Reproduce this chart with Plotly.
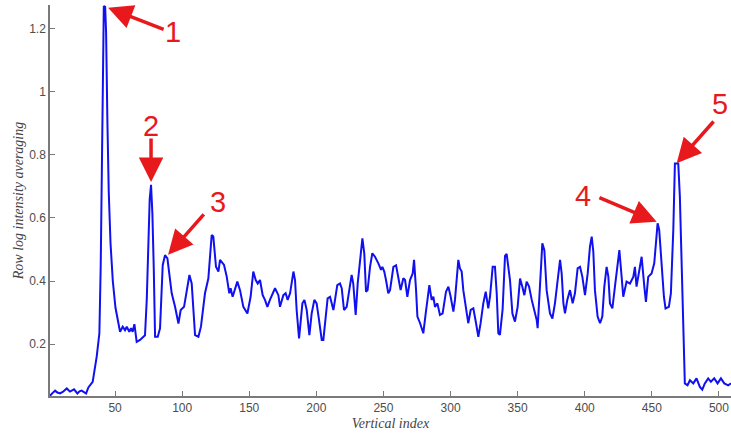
import plotly.graph_objects as go

# Row index (x) and row log-intensity average (y)
x_index = [1.5, 2.0, 3.5, 5.3, 7.0, 9.0, 11.0, 14.0, 16.4, 19.4, 21.9, 23.5, 25.1, 28.4, 30.1,
           33.3, 36.3, 38.3, 39.3, 40.0, 40.8, 41.6, 42.6, 43.3, 44.3, 45.3, 46.6, 48.3, 50.3,
           52.3, 53.7, 55.7, 57.4, 58.7, 60.6, 61.9, 63.1, 64.4, 66.1, 68.6, 71.1, 72.3, 73.6,
           74.8, 75.8, 76.8, 77.8, 78.8, 79.8, 81.8, 83.5, 85.5, 87.2, 89.0, 89.7, 92.2, 94.7,
           97.2, 98.9, 101.4, 105.4, 107.1, 109.6, 112.1, 114.0, 117.0, 119.5, 122.0, 123.2,
           125.2, 127.0, 128.2, 131.2, 133.2, 135.1, 136.1, 137.6, 141.1, 143.1, 145.6, 148.6,
           151.0, 153.0, 154.8, 156.3, 158.0, 160.0, 161.7, 163.5, 165.4, 169.2, 171.7, 172.9,
           175.4, 177.1, 178.6, 180.4, 182.9, 184.1, 185.3, 187.1, 187.8, 189.6, 191.1, 192.8,
           194.8, 196.5, 198.5, 200.2, 202.0, 204.0, 205.2, 206.9, 208.4, 210.2, 212.7, 213.9,
           215.6, 217.6, 218.9, 220.6, 222.6, 225.1, 226.3, 227.5, 229.3, 230.8, 232.5, 234.3,
           235.7, 237.0, 238.2, 240.0, 241.7, 243.7, 246.2, 248.2, 249.2, 250.6, 251.9, 253.6,
           254.9, 257.4, 259.4, 261.1, 262.8, 264.8, 266.1, 267.8, 269.8, 271.8, 272.8, 274.3,
           275.3, 277.3, 279.7, 281.5, 284.2, 285.9, 287.2, 288.4, 290.2, 292.1, 294.1, 296.6,
           298.4, 300.1, 302.1, 303.3, 304.6, 305.8, 307.0, 308.3, 309.5, 311.5, 313.2, 315.0,
           317.0, 319.0, 320.7, 322.4, 324.4, 326.2, 328.1, 329.4, 331.4, 333.1, 334.4, 335.6,
           336.8, 338.8, 340.6, 341.8, 344.3, 346.1, 348.0, 350.0, 351.8, 353.5, 355.0, 356.7,
           358.5, 360.5, 362.4, 364.2, 364.9, 366.7, 368.4, 369.9, 371.6, 374.1, 375.9, 377.8,
           379.8, 381.6, 382.8, 384.1, 385.3, 387.0, 389.0, 391.0, 392.7, 394.7, 396.5, 398.2,
           400.2, 402.2, 403.9, 405.2, 406.4, 407.6, 409.6, 411.4, 413.1, 414.6, 416.3, 417.6,
           418.8, 420.6, 422.5, 424.5, 425.8, 427.5, 428.7, 431.2, 433.7, 436.2, 437.4, 438.6,
           440.4, 442.4, 444.4, 445.6, 447.3, 449.8, 451.8, 454.3, 455.5, 457.3, 459.0, 460.2,
           462.7, 464.2, 466.0, 467.2, 469.7, 470.9, 472.2, 473.4, 474.6, 476.6, 478.4, 480.9,
           483.3, 485.8, 487.6, 489.5, 492.0, 494.0, 496.5, 499.0, 501.5, 504.0, 506.9, 509.0]
y_avg = [0.040, 0.038, 0.045, 0.052, 0.046, 0.043, 0.048, 0.059, 0.049, 0.056, 0.043, 0.050, 0.052,
         0.043, 0.062, 0.080, 0.160, 0.234, 0.45, 0.78, 1.08, 1.273, 1.27, 1.19, 0.90, 0.68, 0.52,
         0.40, 0.315, 0.265, 0.239, 0.255, 0.244, 0.255, 0.239, 0.250, 0.239, 0.263, 0.207, 0.213,
         0.223, 0.228, 0.340, 0.551, 0.660, 0.705, 0.615, 0.445, 0.223, 0.223, 0.250, 0.450, 0.482,
         0.472, 0.451, 0.361, 0.318, 0.265, 0.308, 0.318, 0.419, 0.392, 0.228, 0.223, 0.255, 0.361,
         0.408, 0.546, 0.541, 0.445, 0.430, 0.467, 0.451, 0.414, 0.361, 0.377, 0.350, 0.398, 0.371,
         0.318, 0.297, 0.350, 0.430, 0.403, 0.392, 0.403, 0.355, 0.340, 0.318, 0.340, 0.377, 0.355,
         0.318, 0.355, 0.361, 0.340, 0.361, 0.430, 0.403, 0.308, 0.218, 0.244, 0.329, 0.340, 0.308,
         0.228, 0.297, 0.340, 0.329, 0.276, 0.213, 0.213, 0.297, 0.345, 0.350, 0.308, 0.340, 0.387,
         0.392, 0.377, 0.308, 0.318, 0.387, 0.419, 0.392, 0.292, 0.392, 0.472, 0.535, 0.488, 0.366,
         0.371, 0.445, 0.488, 0.477, 0.456, 0.435, 0.445, 0.430, 0.403, 0.361, 0.371, 0.445, 0.450,
         0.414, 0.371, 0.409, 0.403, 0.350, 0.403, 0.424, 0.467, 0.371, 0.287, 0.266, 0.234, 0.297,
         0.387, 0.340, 0.350, 0.318, 0.329, 0.292, 0.297, 0.366, 0.382, 0.350, 0.303, 0.340, 0.414,
         0.467, 0.440, 0.430, 0.371, 0.308, 0.266, 0.308, 0.313, 0.266, 0.223, 0.266, 0.329, 0.366,
         0.313, 0.350, 0.445, 0.445, 0.361, 0.234, 0.229, 0.310, 0.480, 0.486, 0.403, 0.297, 0.271,
         0.318, 0.408, 0.382, 0.355, 0.398, 0.382, 0.340, 0.308, 0.276, 0.250, 0.403, 0.520, 0.498,
         0.371, 0.297, 0.281, 0.329, 0.414, 0.467, 0.424, 0.329, 0.297, 0.340, 0.371, 0.329, 0.361,
         0.440, 0.445, 0.414, 0.355, 0.424, 0.509, 0.541, 0.493, 0.371, 0.287, 0.266, 0.287, 0.382,
         0.445, 0.414, 0.329, 0.313, 0.382, 0.445, 0.498, 0.413, 0.350, 0.398, 0.392, 0.413, 0.445,
         0.382, 0.429, 0.477, 0.382, 0.334, 0.413, 0.424, 0.456, 0.583, 0.562, 0.456, 0.350, 0.313,
         0.318, 0.361, 0.562, 0.773, 0.773, 0.667, 0.435, 0.223, 0.075, 0.069, 0.085, 0.075, 0.091,
         0.064, 0.055, 0.075, 0.091, 0.080, 0.091, 0.075, 0.091, 0.075, 0.069, 0.075]

x_tick_vals = [50, 100, 150, 200, 250, 300, 350, 400, 450, 500]
y_tick_vals = [0.2, 0.4, 0.6, 0.8, 1.0, 1.2]
y_tick_text = ["0.2", "0.4", "0.6", "0.8", "1", "1.2"]

# Numbered callouts: label, arrow tip, arrow tail, label position (data units)
peak_labels = ["1", "2", "3", "4", "5"]
tip_x = [44.8, 76.8, 89.5, 453.6, 468.5]
tip_y = [1.267, 0.714, 0.483, 0.588, 0.774]
tail_x = [87.3, 76.8, 117.1, 409.8, 497.0]
tail_y = [1.197, 0.857, 0.616, 0.667, 0.911]
label_x = [93.2, 76.8, 126.7, 398.7, 500.5]
label_y = [1.19, 0.892, 0.651, 0.67, 0.962]

RED = "#e8191c"

fig = go.Figure()
fig.add_trace(go.Scatter(x=x_index, y=y_avg, mode="lines",
                         line=dict(color="#1010f0", width=2), showlegend=False,
                         hoverinfo="skip"))

annotations = []
for i in range(len(peak_labels)):
    annotations.append(dict(x=tip_x[i], y=tip_y[i], ax=tail_x[i], ay=tail_y[i],
                            xref="x", yref="y", axref="x", ayref="y", text="",
                            showarrow=True, arrowhead=2, arrowsize=1.4, arrowwidth=3.5,
                            arrowcolor=RED, standoff=0, startstandoff=0))
    annotations.append(dict(x=label_x[i], y=label_y[i], xref="x", yref="y",
                            text=peak_labels[i], showarrow=False,
                            font=dict(family="Liberation Sans, Arial", size=29, color=RED),
                            xanchor="center", yanchor="middle"))

fig.update_layout(
    width=731, height=436,
    margin=dict(l=50, r=0, t=5, b=40, autoexpand=False),
    paper_bgcolor="white", plot_bgcolor="white",
    annotations=annotations,
    xaxis=dict(range=[1.5, 509], tickvals=x_tick_vals, ticks="inside", ticklen=5,
               tickcolor="#7a7a7a", showline=True, linecolor="#7a7a7a", linewidth=1.5,
               showgrid=False, zeroline=False, mirror=False, automargin=False,
               tickfont=dict(family="Liberation Sans, Arial", size=12, color="#4d4d4d"),
               title=dict(text="Vertical index", standoff=4,
                          font=dict(family="Liberation Serif, Times New Roman", size=14,
                                    color="#444444", style="italic"))),
    yaxis=dict(range=[0.035, 1.276], tickvals=y_tick_vals, ticktext=y_tick_text,
               ticks="inside", ticklen=5, tickcolor="#7a7a7a", showline=True,
               linecolor="#7a7a7a", linewidth=1.5, showgrid=False, zeroline=False,
               automargin=False,
               tickfont=dict(family="Liberation Sans, Arial", size=12, color="#4d4d4d"),
               title=dict(text="Row log intensity averaging", standoff=2,
                          font=dict(family="Liberation Serif, Times New Roman", size=14,
                                    color="#444444", style="italic"))),
)

fig.write_html("out.html", config={"displayModeBar": False},
               post_script="document.body.style.margin='0';document.body.style.padding='0';")
